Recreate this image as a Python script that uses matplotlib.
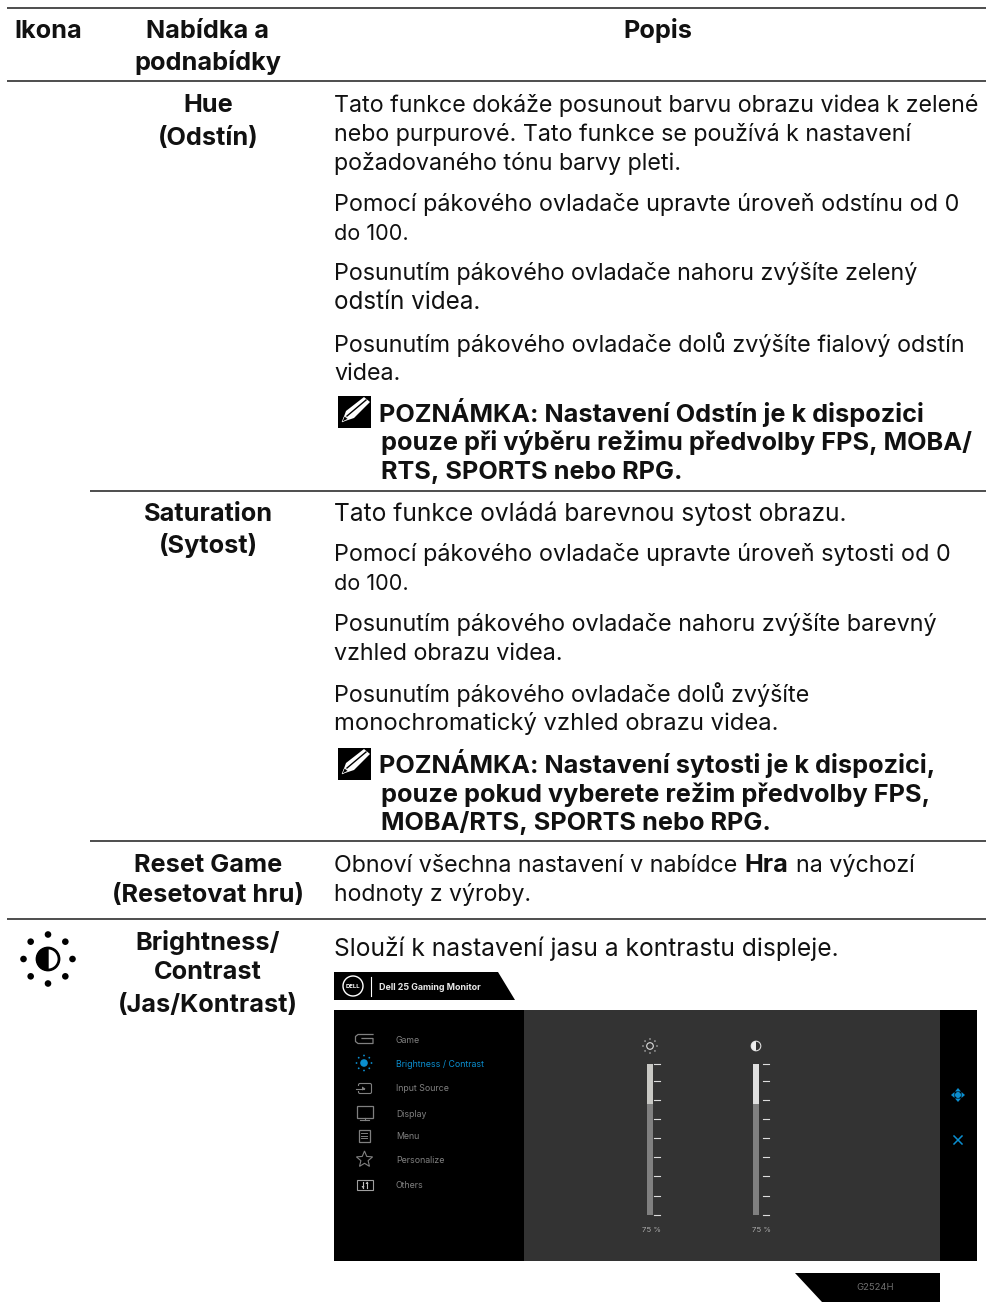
import numpy as np
import matplotlib
matplotlib.use('Agg')
import matplotlib.pyplot as plt
from matplotlib.patches import Polygon, Rectangle, Circle, Wedge, FancyBboxPatch

plt.rcParams['font.family'] = ['Inter', 'DejaVu Sans']

W, H = 987, 1315
BODY = 23.3 * 0.72
BOLD = 25.3 * 0.72
INK = '#111111'

# table rules: y, x start
rules_y = [7.5, 81, 490.5, 841, 919]
rules_x0 = [7, 7, 90, 90, 7]

header_labels = ['Ikona', 'Nabídka a', 'podnabídky', 'Popis']
header_x = [48, 208, 208, 658]
header_y = [38, 38, 70, 38]

menu_labels = ['Hue', '(Odstín)', 'Saturation', '(Sytost)', 'Reset Game', '(Resetovat hru)',
               'Brightness/', 'Contrast', '(Jas/Kontrast)']
menu_y = [112, 145, 521, 553, 872, 902, 950, 979, 1012]

body_lines = ['Tato funkce dokáže posunout barvu obrazu videa k zelené',
              'nebo purpurové. Tato funkce se používá k nastavení',
              'požadovaného tónu barvy pleti.',
              'Pomocí pákového ovladače upravte úroveň odstínu od 0',
              'do 100.',
              'Posunutím pákového ovladače nahoru zvýšíte zelený',
              'odstín videa.',
              'Posunutím pákového ovladače dolů zvýšíte fialový odstín',
              'videa.',
              'Tato funkce ovládá barevnou sytost obrazu.',
              'Pomocí pákového ovladače upravte úroveň sytosti od 0',
              'do 100.',
              'Posunutím pákového ovladače nahoru zvýšíte barevný',
              'vzhled obrazu videa.',
              'Posunutím pákového ovladače dolů zvýšíte',
              'monochromatický vzhled obrazu videa.',
              'hodnoty z výroby.',
              'Slouží k nastavení jasu a kontrastu displeje.']
body_y = [112, 141, 170, 211, 240, 280, 309, 352, 380, 521, 561, 590, 631, 660, 702, 730, 901, 956]
# some lines run a little wider in the reference
body_scale = [1, 1, 1, 1.005, 0.93, 1, 1.04, 1.003, 1, 1.055, 1.005, 0.93, 1.003, 1, 1, 1.02, 0.99, 1.055]

note_lines = ['POZNÁMKA: Nastavení Odstín je k dispozici',
              'pouze při výběru režimu předvolby FPS, MOBA/',
              'RTS, SPORTS nebo RPG.',
              'POZNÁMKA: Nastavení sytosti je k dispozici,',
              'pouze pokud vyberete režim předvolby FPS,',
              'MOBA/RTS, SPORTS nebo RPG.']
note_y = [422, 450, 479, 773, 802, 830]
pencil_y = [396, 748]

osd_items = ['Game', 'Brightness / Contrast', 'Input Source', 'Display', 'Menu', 'Personalize', 'Others']
osd_y = [1040, 1064, 1088, 1114, 1136, 1160, 1185]
slider_x = [647, 753]
slider_ticks = [1064, 1081, 1100, 1119, 1138, 1157, 1176, 1196, 1215]
slider_value = 75

fig = plt.figure(figsize=(W / 100, H / 100), dpi=100)
ax = fig.add_axes([0, 0, 1, 1])
ax.set_xlim(0, W)
ax.set_ylim(H, 0)
ax.axis('off')


def rect(x0, y0, x1, y1, color, z=1):
    ax.add_patch(Rectangle((x0, y0), x1 - x0, y1 - y0, fc=color, ec='none', zorder=z))


def dots(cx, cy, r, size, color, z=3):
    for a in np.arange(8) * np.pi / 4:
        ax.add_patch(Circle((cx + r * np.cos(a), cy + r * np.sin(a)), size, fc=color, ec='none', zorder=z))


def pencil(y):
    rect(338, y, 371, y + 32, '#000000')
    ax.add_patch(Polygon([(342, y + 26), (346, y + 15), (364, y + 1), (370, y + 6), (354, y + 22)],
                         fc='white', ec='none', zorder=3))
    ax.plot([347, 366], [y + 20, y + 4], color='#000000', lw=1.0, zorder=4)
    ax.add_patch(Polygon([(342, y + 26), (344.5, y + 20), (348, y + 23)], fc='#000000', ec='white', lw=0.4, zorder=4))


for y, x0 in zip(rules_y, rules_x0):
    ax.plot([x0, W], [y, y], color='#1c1c1c', lw=1.1, solid_capstyle='butt')

for s, x, y in zip(header_labels, header_x, header_y):
    ax.text(x, y, s, fontsize=BOLD, fontweight='bold', ha='center', va='baseline', color=INK)
for s, y in zip(menu_labels, menu_y):
    ax.text(208, y, s, fontsize=BOLD, fontweight='bold', ha='center', va='baseline', color=INK)
for s, y, k in zip(body_lines, body_y, body_scale):
    ax.text(334, y, s, fontsize=BODY * k, ha='left', va='baseline', color=INK)
for i, (s, y) in enumerate(zip(note_lines, note_y)):
    x = 379 if i % 3 == 0 else 381
    ax.text(x, y, s, fontsize=BOLD, fontweight='bold', ha='left', va='baseline', color=INK)
for y in pencil_y:
    pencil(y)

# line with a bold word in it
fig.canvas.draw()
rend = fig.canvas.get_renderer()
x = 334
for s, w, size in [('Obnoví všechna nastavení v nabídce', 'normal', BODY), ('Hra', 'bold', BOLD), ('na výchozí', 'normal', BODY)]:
    t = ax.text(x, 871.5, s, fontsize=size, fontweight=w, ha='left', va='baseline', color=INK)
    x = t.get_window_extent(rend).x1 + 7.5

# brightness icon in the first column
ax.add_patch(Circle((48, 959), 11, fc='white', ec='#000000', lw=2.0, zorder=3))
ax.add_patch(Wedge((48, 959), 11, 90, 270, fc='#000000', ec='#000000', zorder=4))
dots(48, 959, 24.5, 3.3, '#000000')

# OSD screenshot
ax.add_patch(Polygon([(334, 972), (498, 972), (515, 1000), (334, 1000)], fc='#000000', ec='none'))
ax.add_patch(Circle((353, 986), 10, fc='none', ec='white', lw=1.0))
ax.text(353, 986, 'DELL', fontsize=4.3, color='white', fontweight='bold', ha='center', va='center')
ax.plot([370.5, 370.5], [977, 996], color='white', lw=0.8)
ax.text(379, 987, 'Dell 25 Gaming Monitor', fontsize=6.4, color='#e8e8e8', fontweight='bold', ha='left', va='center')

rect(334, 1010, 977, 1261, '#000000')
rect(524, 1010, 940, 1261, '#333333')

OSD_GREY = '#808080'
OSD_BLUE = '#0b8ecf'
for i, (s, y) in enumerate(zip(osd_items, osd_y)):
    ax.text(396, y + 0.5, s, fontsize=8.8 * 0.72, color=OSD_BLUE if i == 1 else OSD_GREY, ha='left', va='center')

# menu icons
ax.plot([373, 358, 355.5, 355.5, 358, 373, 373, 362], [1034.5, 1034.5, 1036.5, 1041.5, 1043.5, 1043.5, 1038.5, 1038.5],
        color=OSD_GREY, lw=0.9)
ax.add_patch(Circle((364, 1063), 3.8, fc=OSD_BLUE, ec='none'))
dots(364, 1063, 7.5, 0.9, OSD_BLUE)
ax.add_patch(FancyBboxPatch((360, 1085), 10, 7, boxstyle='round,pad=1.5', fc='none', ec=OSD_GREY, lw=0.8))
rect(356, 1086, 359.5, 1091, '#000000', 2)
ax.plot([356, 364], [1088.5, 1088.5], color=OSD_GREY, lw=0.8, zorder=3)
ax.add_patch(Polygon([(362, 1086.5), (365.5, 1088.5), (362, 1090.5)], fc=OSD_GREY, ec='none', zorder=3))
ax.add_patch(Rectangle((356.5, 1105.5), 16, 12, fc='none', ec=OSD_GREY, lw=0.9))
ax.plot([364.5, 364.5], [1117.5, 1120], color=OSD_GREY, lw=0.8)
ax.plot([360, 369], [1120, 1120], color=OSD_GREY, lw=0.8)
ax.add_patch(Rectangle((358.5, 1129.5), 11, 12, fc='none', ec=OSD_GREY, lw=0.9))
for y in [1133, 1135.5, 1138]:
    ax.plot([361, 367], [y, y], color=OSD_GREY, lw=0.7)
star_a = np.pi / 2 + np.arange(10) * np.pi / 5
star_r = np.where(np.arange(10) % 2 == 0, 8.5, 3.8)
ax.add_patch(Polygon(np.c_[364.5 + star_r * np.cos(star_a), 1159.5 - star_r * np.sin(star_a)],
                     fc='none', ec=OSD_GREY, lw=0.8))
ax.add_patch(Rectangle((356.5, 1179.5), 16, 10.5, fc='none', ec='#a0a0a0', lw=0.8))
ax.plot([363, 363], [1181.5, 1188], color='#c0c0c0', lw=0.8)
ax.plot([367, 367], [1181.5, 1188], color='#c0c0c0', lw=0.8)
ax.add_patch(Polygon([(361.5, 1186), (364.5, 1186), (363, 1188.5)], fc='#c0c0c0', ec='none'))
ax.add_patch(Polygon([(365.5, 1184), (368.5, 1184), (367, 1181.5)], fc='#c0c0c0', ec='none'))

# sliders
for k, x in enumerate(slider_x):
    y0, y1 = slider_ticks[0], slider_ticks[-1]
    rect(x, y0, x + 6, y1, '#808080', 2)
    rect(x, y0, x + 6, y0 + (y1 - y0) * (100 - slider_value) / 100 + 2, '#c8c8c4' if k == 0 else '#e0e0e0', 3)
    tx = x + 7 if k == 0 else x + 10
    for t in slider_ticks:
        ax.plot([tx, tx + 6], [t, t], color='#dddddd', lw=0.8, zorder=3)
    ax.text(x + (4 if k == 0 else 8), 1230, '%d %%' % slider_value, fontsize=7.8 * 0.72, color='#aaaaaa',
            ha='center', va='center')

ax.add_patch(Circle((650, 1046), 3.3, fc='none', ec='#dddddd', lw=0.8, zorder=3))
dots(650, 1046, 7, 0.7, '#dddddd')
ax.add_patch(Circle((756, 1046), 4.8, fc='#333333', ec='#dddddd', lw=0.8, zorder=3))
ax.add_patch(Wedge((756, 1046), 4.8, 90, 270, fc='#eeeeee', ec='none', zorder=4))

# right hand side buttons
ax.add_patch(Circle((958, 1095), 3, fc=OSD_BLUE, ec='none'))
for dx, dy in [(0, -1), (0, 1), (-1, 0), (1, 0)]:
    ax.add_patch(Polygon([(958 + 3.5 * dx - 3 * dy, 1095 + 3.5 * dy + 3 * dx),
                          (958 + 3.5 * dx + 3 * dy, 1095 + 3.5 * dy - 3 * dx),
                          (958 + 7 * dx, 1095 + 7 * dy)], fc=OSD_BLUE, ec='none'))
ax.plot([954, 962], [1136, 1144], color=OSD_BLUE, lw=1.1)
ax.plot([954, 962], [1144, 1136], color=OSD_BLUE, lw=1.1)

# model tab
ax.add_patch(Polygon([(795, 1273), (940, 1273), (940, 1302), (822, 1302)], fc='#000000', ec='none'))
ax.text(875, 1288, 'G2524H', fontsize=9.5 * 0.72, color='#6e6e6e', ha='center', va='center')

fig.savefig('out.png', dpi=100, facecolor='white')
